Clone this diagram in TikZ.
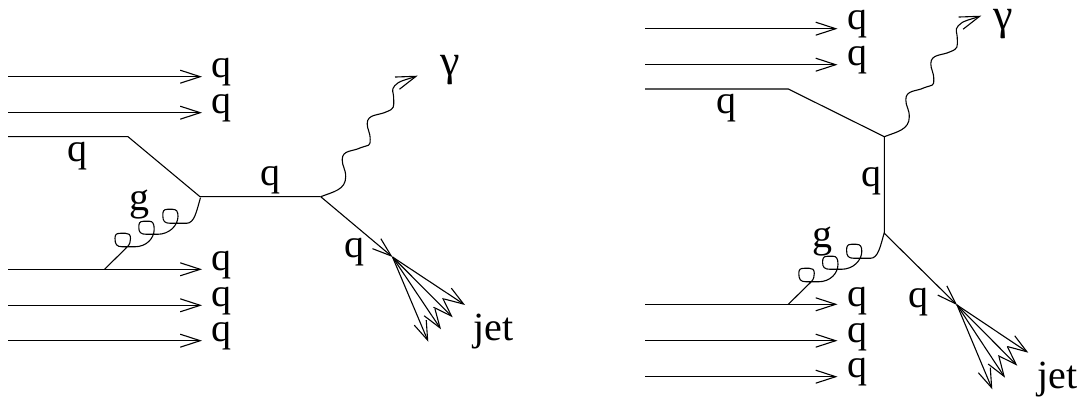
\documentclass[tikz,border=0pt]{standalone}
\usepackage{fontspec}
\setmainfont{Liberation Serif}
\usetikzlibrary{arrows.meta}
\tikzset{
  x=1pt,y=-1pt,
  line/.style={line width=1.1pt,line join=round},
  beam/.style={line,-{Straight Barb[length=20pt,width=13pt,line width=1.1pt]}},
  jetarrow/.style={line,-{Straight Barb[length=19pt,width=13pt,line width=1.1pt]}},
  lab/.style={inner sep=0pt,anchor=base west,font=\fontsize{40}{40}\selectfont},
  gam/.style={inner sep=0pt,anchor=base west,font=\fontsize{44}{44}\selectfont},
  pics/gluon/.style={code={
    \draw[line] (0,0) -- (22.7,-22.3) .. controls (25.5,-25) and (26,-28) .. (26,-31)
      .. controls (26,-35) and (24,-36) .. (21,-36) -- (16,-36)
      .. controls (12,-36) and (10.5,-35) .. (10.5,-31)
      .. controls (10.5,-25) and (12,-22.5) .. (18,-22.5) -- (30,-22.5)
      .. controls (42,-22.5) and (49.7,-31) .. (49.7,-40)
      .. controls (49.7,-46) and (48,-48) .. (45,-48) -- (39,-48)
      .. controls (35,-48) and (34.3,-46) .. (34.3,-42)
      .. controls (34.3,-37) and (36,-35) .. (42,-35) -- (53,-35)
      .. controls (65,-35) and (73.5,-44) .. (73.5,-53)
      .. controls (73.5,-58) and (72,-60) .. (68,-60) -- (63,-60)
      .. controls (59,-60) and (58.3,-58) .. (58.3,-54)
      .. controls (58.3,-48) and (60,-46) .. (66,-46) -- (82,-46)
      .. controls (90,-46) and (92,-58) .. (96,-71.7);
  }},
  pics/photon/.style={code={
    \draw[line,-{Straight Barb[length=20pt,width=13pt,line width=1.1pt]}] (0,0) .. controls (13,-5) and (25,-7) .. (25,-20)
      .. controls (25,-28) and (21.5,-30) .. (21.5,-37)
      .. controls (21.5,-47) and (32,-45) .. (40,-49)
      .. controls (48,-52) and (49.5,-50) .. (49.5,-57)
      .. controls (49.5,-65) and (46.5,-67) .. (46.5,-73)
      .. controls (46.5,-83) and (58,-81) .. (66,-85)
      .. controls (74,-88) and (73,-90) .. (73,-97)
      .. controls (73,-106) and (70,-106) .. (74,-111)
      .. controls (78,-116) and (86,-117) .. (97,-121);
  }}
}
\begin{document}
\begin{tikzpicture}
\useasboundingbox (0,0) rectangle (1082,398);
% left panel
\foreach \n/\y in {a/76.7,b/112.7,c/269.3,d/305.3,e/340.7}{
  \coordinate (L\n s) at (8,\y); \coordinate (L\n t) at (202,\y);
  \draw[beam] (L\n s) -- (L\n t);
}
\coordinate (Lq0) at (8,136.7);
\coordinate (Lq1) at (128,136.7);
\coordinate (Lv1) at (200,196.7);
\coordinate (Lv2) at (320.7,196.7);
\coordinate (Lj) at (392.5,257);
\coordinate (Lg) at (104.5,269.3);
\draw[line] (Lq0) -- (Lq1) -- (Lv1) -- (Lv2);
\draw[jetarrow] (Lv2) -- (Lj);
\pic at (Lg) {gluon};
\pic at (Lv2) {photon};
\foreach \n/\x/\y in {1/465/305,2/452.7/317.3,3/441/329.3,4/428.3/341.7}{
  \coordinate (Lt\n) at (\x,\y);
  \draw[jetarrow] (Lj) -- (Lt\n);
}
\node[lab] (l1) at (211,77.5) {q};
\node[lab] (l2) at (211,113.8) {q};
\node[lab] (l3) at (211,270) {q};
\node[lab] (l4) at (211,306) {q};
\node[lab] (l5) at (211,341.5) {q};
\node[lab] (l6) at (67,162) {q};
\node[lab] (l7) at (260,186) {q};
\node[lab] (l8) at (344,257.5) {q};
\node[lab] (l9) at (129,211) {g};
\node[gam] (l10) at (440,76) {γ};
\node[lab] (l11) at (473,340) {jet};
% right panel
\foreach \n/\y in {a/28.7,b/64.7,c/304.3,d/340.7,e/376.7}{
  \coordinate (R\n s) at (645,\y); \coordinate (R\n t) at (837.5,\y);
  \draw[beam] (R\n s) -- (R\n t);
}
\coordinate (Rq0) at (645,89);
\coordinate (Rq1) at (788.3,89);
\coordinate (Rv1) at (884.3,136.7);
\coordinate (Rv2) at (884.3,233.3);
\coordinate (Rj) at (957,305);
\coordinate (Rg) at (788.3,304.3);
\draw[line] (Rq0) -- (Rq1) -- (Rv1) -- (Rv2);
\draw[jetarrow] (Rv2) -- (Rj);
\pic at (Rg) {gluon};
\pic at (Rv1) {photon};
\foreach \n/\x/\y in {1/1028.3/352.7,2/1017.3/365.7,3/1005/377.7,4/992.3/389.3}{
  \coordinate (Rt\n) at (\x,\y);
  \draw[jetarrow] (Rj) -- (Rt\n);
}
\node[lab] (r1) at (847.5,29.5) {q};
\node[lab] (r2) at (847.5,65.5) {q};
\node[lab] (r3) at (847.5,306) {q};
\node[lab] (r4) at (847.5,342.5) {q};
\node[lab] (r5) at (847.5,377.5) {q};
\node[lab] (r6) at (716,114) {q};
\node[lab] (r7) at (861,187) {q};
\node[lab] (r8) at (908,307) {q};
\node[lab] (r9) at (812,248) {g};
\node[gam] (r10) at (993,30) {γ};
\node[lab] (r11) at (1037,388) {jet};
\end{tikzpicture}
\end{document}
